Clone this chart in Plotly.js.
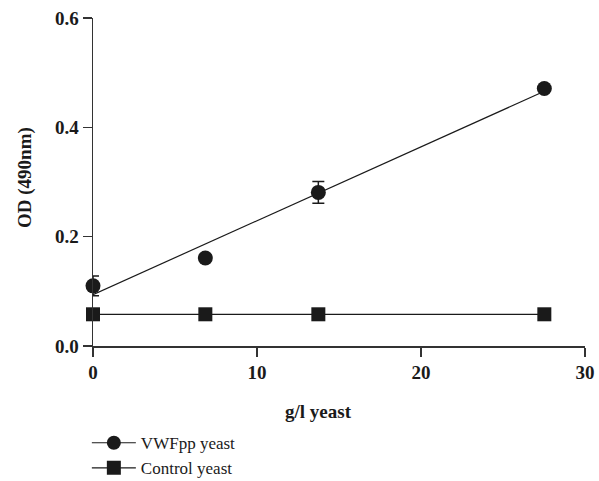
<!DOCTYPE html>
<html>
<head>
<meta charset="utf-8">
<script src="https://cdn.plot.ly/plotly-3.0.1.min.js"></script>
<style>html,body{margin:0;padding:0;background:#fff;}#chart{width:599px;height:481px;}</style>
</head>
<body>
<div id="chart"></div>
<script>
// Data
const xYeast = [0, 6.85, 13.74, 27.52];
const vwfppOD = [0.110, 0.161, 0.281, 0.471];
const vwfppErr = [0.018, 0, 0.020, 0];
const controlOD = [0.058, 0.058, 0.058, 0.058];
const fitX = [0, 27.52];
const fitY = [0.094, 0.466];
const xTicks = [0, 10, 20, 30];
const yTicks = [0, 0.2, 0.4, 0.6];
const yTickText = ['0.0', '0.2', '0.4', '0.6'];
const xTitle = 'g/l yeast';
const yTitle = 'OD (490nm)';

const ink = '#1a1a1a';
const serif = 'Liberation Serif, Times New Roman, serif';

const traces = [
  {
    x: fitX, y: fitY, mode: 'lines', showlegend: false,
    line: {color: ink, width: 1.2}, cliponaxis: false, hoverinfo: 'skip'
  },
  {
    x: xYeast, y: vwfppOD, mode: 'markers', showlegend: false,
    marker: {symbol: 'circle', size: 15, color: ink},
    error_y: {type: 'data', array: vwfppErr, visible: true, color: ink, thickness: 1.5, width: 6},
    cliponaxis: false
  },
  {
    x: xYeast, y: controlOD, mode: 'lines+markers', name: 'Control yeast', showlegend: false,
    marker: {symbol: 'square', size: 14, color: ink},
    line: {color: ink, width: 1.2}, cliponaxis: false
  },
  {
    x: [null], y: [null], mode: 'lines+markers', name: 'VWFpp yeast',
    marker: {symbol: 'circle', size: 14, color: ink}, line: {color: ink, width: 1.2}
  },
  {
    x: [null], y: [null], mode: 'lines+markers', name: 'Control yeast',
    marker: {symbol: 'square', size: 14, color: ink}, line: {color: ink, width: 1.2}
  }
];

const layout = {
  width: 599, height: 481,
  margin: {l: 93, r: 14, t: 18, b: 135, autoexpand: false},
  paper_bgcolor: '#fff', plot_bgcolor: '#fff',
  font: {family: serif, color: ink},
  showlegend: true,
  xaxis: {
    range: [0, 30], tickvals: xTicks, ticks: 'outside', ticklen: 9, tickwidth: 1.5, tickcolor: '#333',
    showline: true, linecolor: '#333', linewidth: 1.5, showgrid: false, zeroline: false,
    tickfont: {family: serif, size: 19, color: ink, weight: 'bold'}
  },
  yaxis: {
    range: [0, 0.6], tickvals: yTicks, ticktext: yTickText, ticks: 'outside', ticklen: 9, tickwidth: 1.5, tickcolor: '#333',
    showline: true, linecolor: '#333', linewidth: 1.5, showgrid: false, zeroline: false,
    tickfont: {family: serif, size: 19, color: ink, weight: 'bold'}
  },
  annotations: [
    {text: '<b>' + xTitle + '</b>', xref: 'paper', yref: 'paper', x: (318 - 93) / 492, y: (346 - 411) / 328,
     xanchor: 'center', yanchor: 'middle', showarrow: false, font: {family: serif, size: 19, color: ink}},
    {text: '<b>' + yTitle + '</b>', xref: 'paper', yref: 'paper', x: (25 - 93) / 492, y: (346 - 178) / 328,
     xanchor: 'center', yanchor: 'middle', showarrow: false, textangle: -90, font: {family: serif, size: 19, color: ink}}
  ],
  legend: {
    x: 0.145, xref: 'container', xanchor: 'left', y: 0.116, yref: 'container', yanchor: 'top',
    font: {family: serif, size: 17, color: ink}, bgcolor: 'rgba(0,0,0,0)',
    itemwidth: 44, tracegroupgap: 0
  }
};

Plotly.newPlot('chart', traces, layout, {displayModeBar: false, staticPlot: true});
</script>
</body>
</html>
